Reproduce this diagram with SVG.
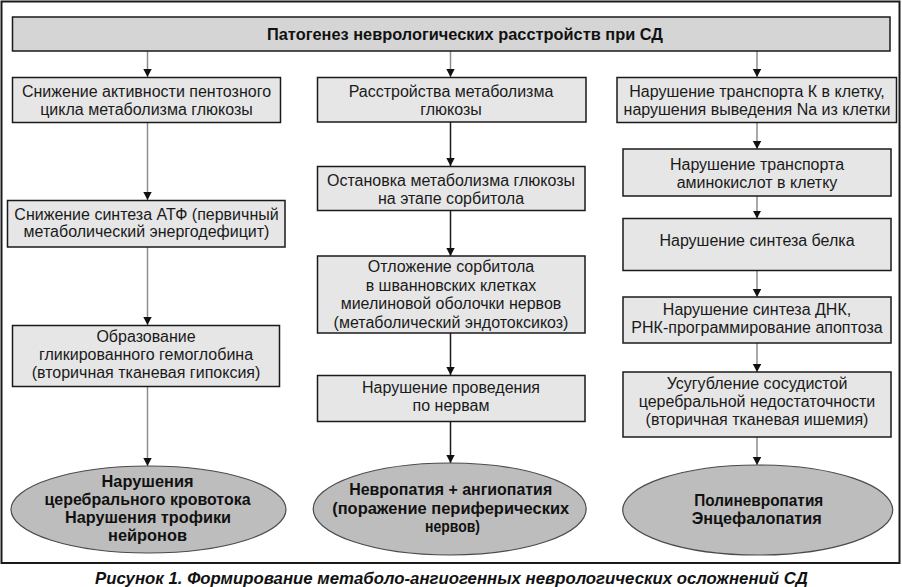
<svg xmlns="http://www.w3.org/2000/svg" width="902" height="587" viewBox="0 0 902 587">
<style>
.box{fill:#e6e6e6;stroke:#1a1a1a;stroke-width:1.5}
.title{fill:#d5d5d5;stroke:#1a1a1a;stroke-width:1.5}
.ell{fill:#bdbdbd;stroke:#4a4a4a;stroke-width:1.2}
.t{font-family:"Liberation Sans",Arial,sans-serif;font-size:16px;fill:#1a1a1a;text-anchor:middle}
.b{font-family:"Liberation Sans",Arial,sans-serif;font-size:17px;font-weight:bold;fill:#111;text-anchor:middle}
.cap{font-family:"Liberation Sans",Arial,sans-serif;font-size:17px;font-weight:bold;font-style:italic;fill:#111;text-anchor:middle}
.cg{stroke:#8c8c8c;stroke-width:1.5;fill:none;marker-end:url(#ah)}
.ck{stroke:#1a1a1a;stroke-width:1.5;fill:none;marker-end:url(#ah)}
</style>
<defs>
<marker id="ah" markerUnits="userSpaceOnUse" markerWidth="9" markerHeight="9" refX="8" refY="4.2" orient="auto">
<path d="M0,0 L8,4.2 L0,8.4 z" fill="#111"/>
</marker>
</defs>
<rect x="0" y="0" width="902" height="587" fill="#fff"/>
<rect x="1.5" y="1.5" width="898" height="561.5" fill="none" stroke="#1a1a1a" stroke-width="2"/>

<g id="connectors">
<line class="cg" x1="147.5" y1="51" x2="147.5" y2="77"/>
<line class="cg" x1="450.5" y1="51" x2="450.5" y2="77"/>
<line class="cg" x1="757" y1="51" x2="757" y2="77"/>
<line class="cg" x1="147.5" y1="122.5" x2="147.5" y2="200"/>
<line class="cg" x1="147.5" y1="247" x2="147.5" y2="325"/>
<line class="cg" x1="147.5" y1="386.5" x2="147.5" y2="466"/>
<line class="ck" x1="450.5" y1="122" x2="450.5" y2="166"/>
<line class="ck" x1="450.5" y1="210.5" x2="450.5" y2="256"/>
<line class="ck" x1="450.5" y1="333" x2="450.5" y2="375"/>
<line class="ck" x1="450.5" y1="421.5" x2="450.5" y2="463"/>
<line class="cg" x1="757" y1="122.5" x2="757" y2="149"/>
<line class="cg" x1="757" y1="196" x2="757" y2="218.5"/>
<line class="cg" x1="757" y1="270.5" x2="757" y2="297"/>
<line class="cg" x1="757" y1="343" x2="757" y2="372"/>
<line class="cg" x1="757" y1="437" x2="757" y2="465"/>
</g>

<g id="n-title">
<rect class="title" x="12.5" y="17" width="877.5" height="34"/>
<text class="b" x="465" y="39.5" textLength="396" lengthAdjust="spacingAndGlyphs">Патогенез неврологических расстройств при СД</text>
</g>

<g id="n-l1">
<rect class="box" x="12.5" y="77.5" width="268" height="45"/>
<text class="t" x="146.5" y="97">Снижение активности пентозного</text>
<text class="t" x="146.5" y="114.5">цикла метаболизма глюкозы</text>
</g>
<g id="n-l2">
<rect class="box" x="7.5" y="200.5" width="277.5" height="46.5"/>
<text class="t" x="146.5" y="220">Снижение синтеза АТФ (первичный</text>
<text class="t" x="146.5" y="237">метаболический энергодефицит)</text>
</g>
<g id="n-l3">
<rect class="box" x="12.5" y="325.5" width="267" height="61"/>
<text class="t" x="146" y="342">Образование</text>
<text class="t" x="146" y="360">гликированного гемоглобина</text>
<text class="t" x="146" y="378">(вторичная тканевая гипоксия)</text>
</g>
<g id="n-l4">
<ellipse class="ell" cx="148.5" cy="509.5" rx="137.5" ry="43.5"/>
<text class="b" x="147.5" y="486.5" textLength="92" lengthAdjust="spacingAndGlyphs">Нарушения</text>
<text class="b" x="147.5" y="504.5" textLength="206" lengthAdjust="spacingAndGlyphs">церебрального кровотока</text>
<text class="b" x="148" y="522.5" textLength="166" lengthAdjust="spacingAndGlyphs">Нарушения трофики</text>
<text class="b" x="147.5" y="540.5" textLength="79" lengthAdjust="spacingAndGlyphs">нейронов</text>
</g>

<g id="n-m1">
<rect class="box" x="317.5" y="77.5" width="268.5" height="44.5"/>
<text class="t" x="451" y="97">Расстройства метаболизма</text>
<text class="t" x="451" y="115">глюкозы</text>
</g>
<g id="n-m2">
<rect class="box" x="317.5" y="166.5" width="267.5" height="44"/>
<text class="t" x="451" y="186">Остановка метаболизма глюкозы</text>
<text class="t" x="451" y="204">на этапе сорбитола</text>
</g>
<g id="n-m3">
<rect class="box" x="317.5" y="256" width="267.5" height="77"/>
<text class="t" x="451" y="272">Отложение сорбитола</text>
<text class="t" x="451" y="290.5">в шванновских клетках</text>
<text class="t" x="451" y="309">миелиновой оболочки нервов</text>
<text class="t" x="451" y="327.5">(метаболический эндотоксикоз)</text>
</g>
<g id="n-m4">
<rect class="box" x="317.5" y="375.5" width="267.5" height="46"/>
<text class="t" x="451" y="393">Нарушение проведения</text>
<text class="t" x="451" y="411">по нервам</text>
</g>
<g id="n-m5">
<ellipse class="ell" cx="449.7" cy="509" rx="136.5" ry="46"/>
<text class="b" x="450.7" y="494.5" textLength="203" lengthAdjust="spacingAndGlyphs">Невропатия + ангиопатия</text>
<text class="b" x="450.7" y="513.5" textLength="237" lengthAdjust="spacingAndGlyphs">(поражение периферических</text>
<text class="b" x="452.5" y="531.5" textLength="55" lengthAdjust="spacingAndGlyphs">нервов)</text>
</g>

<g id="n-r1">
<rect class="box" x="617" y="77.5" width="279.5" height="45"/>
<text class="t" x="757" y="97">Нарушение транспорта К в клетку,</text>
<text class="t" x="757" y="114.5">нарушения выведения Na из клетки</text>
</g>
<g id="n-r2">
<rect class="box" x="623" y="149" width="268" height="47"/>
<text class="t" x="757" y="170">Нарушение транспорта</text>
<text class="t" x="757" y="188">аминокислот в клетку</text>
</g>
<g id="n-r3">
<rect class="box" x="623" y="218.5" width="268" height="52"/>
<text class="t" x="757" y="246">Нарушение синтеза белка</text>
</g>
<g id="n-r4">
<rect class="box" x="623" y="297" width="268" height="46"/>
<text class="t" x="757" y="315">Нарушение синтеза ДНК,</text>
<text class="t" x="757" y="333">РНК-программирование апоптоза</text>
</g>
<g id="n-r5">
<rect class="box" x="623" y="372" width="268" height="65"/>
<text class="t" x="757" y="388.5">Усугубление сосудистой</text>
<text class="t" x="757" y="406.5">церебральной недостаточности</text>
<text class="t" x="757" y="425">(вторичная тканевая ишемия)</text>
</g>
<g id="n-r6">
<ellipse class="ell" cx="757.7" cy="510" rx="135" ry="45"/>
<text class="b" x="758.8" y="505.5" textLength="129" lengthAdjust="spacingAndGlyphs">Полиневропатия</text>
<text class="b" x="756.7" y="524" textLength="130" lengthAdjust="spacingAndGlyphs">Энцефалопатия</text>
</g>

<text class="cap" x="451.5" y="583.5" textLength="713" lengthAdjust="spacingAndGlyphs">Рисунок 1. Формирование метаболо-ангиогенных неврологических осложнений СД</text>
</svg>
